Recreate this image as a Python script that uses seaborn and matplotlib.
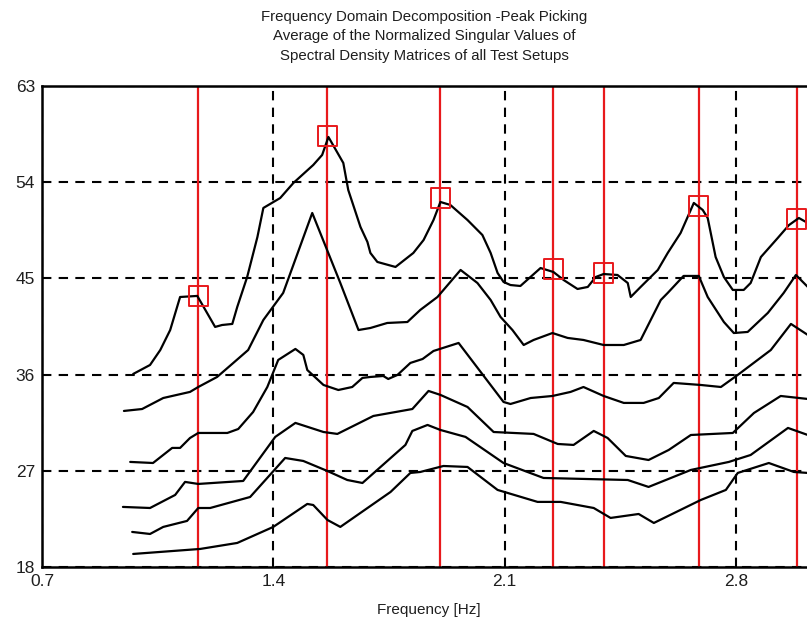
import numpy as np
import pandas as pd
import matplotlib
matplotlib.use("Agg")
import matplotlib.pyplot as plt
import seaborn as sns

# singular value curves, freq in Hz, value in dB
sv1_f = [0.976, 1.027, 1.058, 1.088, 1.118, 1.170, 1.224, 1.245, 1.276, 1.291, 1.321, 1.352, 1.370,
         1.421, 1.461, 1.521, 1.548, 1.567, 1.612, 1.627, 1.664, 1.685, 1.694, 1.715, 1.770, 1.824,
         1.855, 1.885, 1.906, 1.936, 1.988, 2.033, 2.058, 2.079, 2.097, 2.118, 2.148, 2.209, 2.248,
         2.279, 2.321, 2.352, 2.376, 2.400, 2.442, 2.473, 2.482, 2.512, 2.564, 2.594, 2.633, 2.673,
         2.700, 2.715, 2.739, 2.764, 2.791, 2.824, 2.845, 2.876, 2.927, 2.961, 2.991, 3.018]
sv1_v = [36.06, 36.90, 38.30, 40.17, 43.26, 43.36, 40.46, 40.64, 40.74, 42.33, 45.13, 48.87, 51.59,
         52.52, 53.93, 55.61, 56.55, 58.23, 55.80, 53.27, 49.81, 48.41, 47.38, 46.54, 46.07, 47.38,
         48.59, 50.46, 52.15, 51.87, 50.46, 49.06, 47.38, 45.51, 44.67, 44.38, 44.29, 45.97, 45.60,
         44.85, 44.01, 44.20, 45.13, 45.41, 45.32, 44.57, 43.26, 44.20, 45.79, 47.38, 49.25, 52.06,
         51.40, 50.65, 47.00, 45.13, 43.92, 43.92, 44.57, 47.00, 48.78, 49.99, 50.65, 50.18]

sv2_f = [0.948, 1.003, 1.067, 1.148, 1.173, 1.230, 1.279, 1.324, 1.370, 1.430, 1.518, 1.603, 1.658,
         1.694, 1.745, 1.806, 1.845, 1.897, 1.967, 2.018, 2.058, 2.088, 2.124, 2.158, 2.188, 2.245,
         2.291, 2.339, 2.400, 2.461, 2.512, 2.573, 2.594, 2.642, 2.688, 2.715, 2.764, 2.794, 2.836,
         2.897, 2.945, 2.982, 3.018]
sv2_v = [32.60, 32.78, 33.81, 34.38, 34.84, 35.78, 37.09, 38.30, 41.11, 43.64, 51.12, 44.57, 40.17,
         40.36, 40.83, 40.92, 42.05, 43.26, 45.79, 44.57, 42.98, 41.39, 40.17, 38.77, 39.24, 39.89,
         39.43, 39.24, 38.77, 38.77, 39.24, 42.98, 43.64, 45.23, 45.23, 43.26, 40.92, 39.89, 39.99,
         41.77, 43.64, 45.32, 44.20]

sv3_f = [0.967, 1.036, 1.094, 1.118, 1.148, 1.173, 1.261, 1.294, 1.339, 1.382, 1.415, 1.467, 1.491,
         1.503, 1.552, 1.597, 1.639, 1.670, 1.694, 1.733, 1.748, 1.776, 1.815, 1.852, 1.885, 1.961,
         2.097, 2.118, 2.179, 2.245, 2.300, 2.339, 2.400, 2.461, 2.521, 2.567, 2.612, 2.694, 2.755,
         2.806, 2.906, 2.967, 3.018]
sv3_v = [27.83, 27.73, 29.14, 29.14, 30.07, 30.54, 30.54, 30.91, 32.50, 34.84, 37.37, 38.40, 37.84,
         36.43, 35.03, 34.56, 34.84, 35.69, 35.78, 35.87, 35.59, 35.97, 37.09, 37.46, 38.21, 38.96,
         33.44, 33.25, 33.81, 34.00, 34.38, 34.84, 34.00, 33.35, 33.35, 33.81, 35.22, 35.03, 34.84,
         35.97, 38.30, 40.74, 39.71]

sv4_f = [0.945, 1.027, 1.103, 1.133, 1.173, 1.309, 1.406, 1.467, 1.552, 1.594, 1.703, 1.821, 1.870,
         1.906, 1.988, 2.067, 2.188, 2.261, 2.309, 2.370, 2.412, 2.467, 2.536, 2.597, 2.664, 2.791,
         2.855, 2.936, 3.018]
sv4_v = [23.62, 23.52, 24.74, 25.96, 25.77, 26.05, 30.17, 31.48, 30.63, 30.45, 32.13, 32.78, 34.47,
         34.10, 32.97, 30.63, 30.45, 29.51, 29.42, 30.73, 30.07, 28.39, 28.01, 28.95, 30.35, 30.54,
         32.41, 34.00, 33.72]

sv5_f = [0.973, 1.027, 1.067, 1.139, 1.173, 1.209, 1.330, 1.436, 1.491, 1.564, 1.624, 1.670, 1.800,
         1.821, 1.867, 1.906, 1.982, 2.097, 2.218, 2.473, 2.536, 2.664, 2.779, 2.845, 2.958, 3.018]
sv5_v = [21.28, 21.09, 21.75, 22.31, 23.52, 23.52, 24.55, 28.20, 27.92, 26.98, 26.14, 25.86, 29.42,
         30.73, 31.29, 30.82, 30.17, 27.73, 26.33, 26.14, 25.49, 27.08, 27.83, 28.48, 31.01, 30.35]

sv6_f = [0.976, 1.179, 1.291, 1.400, 1.503, 1.521, 1.564, 1.603, 1.755, 1.815, 1.845, 1.915, 1.988,
         2.079, 2.200, 2.270, 2.370, 2.421, 2.506, 2.552, 2.694, 2.770, 2.806, 2.900, 2.976, 3.018]
sv6_v = [19.22, 19.69, 20.25, 21.75, 23.90, 23.80, 22.40, 21.75, 25.02, 26.80, 26.89, 27.45, 27.36,
         25.21, 24.09, 24.09, 23.52, 22.59, 22.96, 22.12, 24.27, 25.21, 26.80, 27.73, 26.89, 26.80]

# picked peaks
peak_f = [1.173, 1.564, 1.906, 2.248, 2.400, 2.688, 2.985]
peak_v = [43.36, 58.32, 52.52, 45.88, 45.51, 51.77, 50.56]

xticks = [0.7, 1.4, 2.1, 2.8]
yticks = [18, 27, 36, 45, 54, 63]

curves = [(sv1_f, sv1_v), (sv2_f, sv2_v), (sv3_f, sv3_v),
          (sv4_f, sv4_v), (sv5_f, sv5_v), (sv6_f, sv6_v)]
df = pd.concat([pd.DataFrame({"freq": f, "val": v, "sv": i})
                for i, (f, v) in enumerate(curves)], ignore_index=True)
peaks = pd.DataFrame({"freq": peak_f, "val": peak_v})

sns.set_style("white")
plt.rcParams['font.family'] = ['Liberation Sans', 'DejaVu Sans']
for k in ["text.color", "axes.labelcolor", "xtick.color", "ytick.color"]:
    plt.rcParams[k] = "#1e1e1e"

fig = plt.figure(figsize=(8.07, 6.24), dpi=100)
ax = fig.add_axes([42 / 807, 1 - 567 / 624, 1 - 42 / 807 + 0.01, (567 - 86) / 624])

for f in peak_f:
    ax.axvline(f, color="#e8191c", lw=1.6, zorder=2)

sns.lineplot(data=df, x="freq", y="val", units="sv", estimator=None, sort=False,
             color="black", lw=1.6, ax=ax, zorder=3)
sns.scatterplot(data=peaks, x="freq", y="val", marker="s", s=190, facecolor="none",
                edgecolor="#e8191c", linewidth=1.4, ax=ax, zorder=4)

ax.set_xlim(0.7, 3.04)
ax.set_ylim(18, 63)
ax.set_xticks(xticks)
ax.set_yticks(yticks)
ax.set_xticklabels(["0.7", "1.4", "2.1", "2.8"])
ax.tick_params(length=0, labelsize=12.5, pad=5)
ax.grid(True, color="black", linestyle=(0, (4.5, 3.5)), lw=1.5, zorder=1)
for s in ax.spines.values():
    s.set_color("black")
    s.set_linewidth(1.8)
ax.spines["right"].set_visible(False)

ax.set_xlabel("Frequency [Hz]", fontsize=11, labelpad=10)
ax.set_ylabel("")
ax.set_title("Frequency Domain Decomposition -Peak Picking\n"
             "Average of the Normalized Singular Values of\n"
             "Spectral Density Matrices of all Test Setups",
             fontsize=10.8, linespacing=1.5, pad=19, x=(424 - 42) / (807 - 42 + 8))

fig.savefig("out.png", dpi=100)
